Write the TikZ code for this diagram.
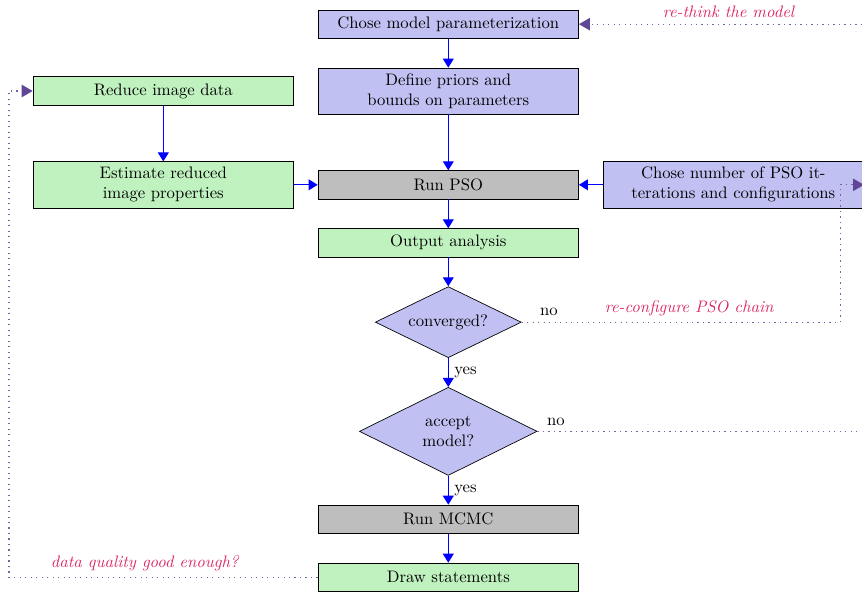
\documentclass[tikz,border=0pt]{standalone}
\usepackage{amsmath,amssymb,amsfonts}
\usepackage{tikz}
\usetikzlibrary{arrows.meta,positioning,shapes.geometric}

\definecolor{lavender}{RGB}{192,192,242}
\definecolor{mint}{RGB}{192,242,192}
\definecolor{stone}{RGB}{190,190,190}
\definecolor{loopcol}{RGB}{95,70,150}
\definecolor{notecol}{RGB}{220,40,100}

\begin{document}
\begin{tikzpicture}[node distance=6.1mm and 5mm,
  block/.style={draw, align=center, minimum width=5.5cm, minimum height=6mm},
  modelbox/.style={block, fill=lavender},
  databox/.style={block, fill=mint},
  runbox/.style={block, fill=stone},
  decision/.style={draw, diamond, aspect=2, align=center, fill=lavender, inner sep=1pt},
  flow/.style={-{Triangle[length=1.9mm,width=2.3mm]}, semithick, draw=blue},
  feedback/.style={-{Triangle[length=2.3mm,width=2.6mm,color=loopcol]}, line width=0.7pt, dash pattern=on 0.7pt off 2.6pt, draw=loopcol!85},
  note/.style={text=notecol, font=\itshape}]
\useasboundingbox (-9.46,0.51) rectangle (8.73,-12.04);
\node[modelbox] (model) at (0,0) {Chose model parameterization};
\node[modelbox, below=of model] (priors) {Define priors and\\bounds on parameters};
\node[runbox, below=11.8mm of priors] (pso) {Run PSO};
\node[databox, left=of pso] (estimate) {Estimate reduced\\image properties};
\node[databox, left=of priors] (reduce) {Reduce image data};
\node[modelbox, right=of pso] (iters) {Chose number of PSO it-\\terations and configurations};
\node[databox, below=of pso] (output) {Output analysis};
\node[decision, below=of output, minimum width=3.08cm, minimum height=1.5cm] (converged) {converged?};
\node[decision, below=of converged, minimum width=3.75cm, minimum height=1.86cm] (accept) {accept\\model?};
\node[runbox, below=of accept] (mcmc) {Run MCMC};
\node[databox, below=of mcmc] (statements) {Draw statements};
\coordinate (edge) at ([xshift=3mm]iters.east);
\draw[flow] (model) -- (priors);
\draw[flow] (priors) -- (pso);
\draw[flow] (reduce) -- (estimate);
\draw[flow] (estimate) -- (pso);
\draw[flow] (iters) -- (pso);
\draw[flow] (pso) -- (output);
\draw[flow] (output) -- (converged);
\draw[flow] (converged) -- node[right]{yes} (accept);
\draw[flow] (accept) -- node[right]{yes} (mcmc);
\draw[flow] (mcmc) -- (statements);
\draw[feedback] (statements.west) -| node[pos=0.28, above, note]{data quality good enough?} ([xshift=-5mm]reduce.west) -- (reduce.west);
\draw[feedback] (converged.east) -| node[pos=0.043, above]{no} node[pos=0.263, above, note]{re-configure PSO chain} ([xshift=-5mm]iters.east) -- (iters.east);
\draw[feedback] (accept.east) -| node[pos=0.027, above]{no} (edge) |- node[pos=0.75, above, note]{re-think the model} (model.east);
\end{tikzpicture}
\end{document}
